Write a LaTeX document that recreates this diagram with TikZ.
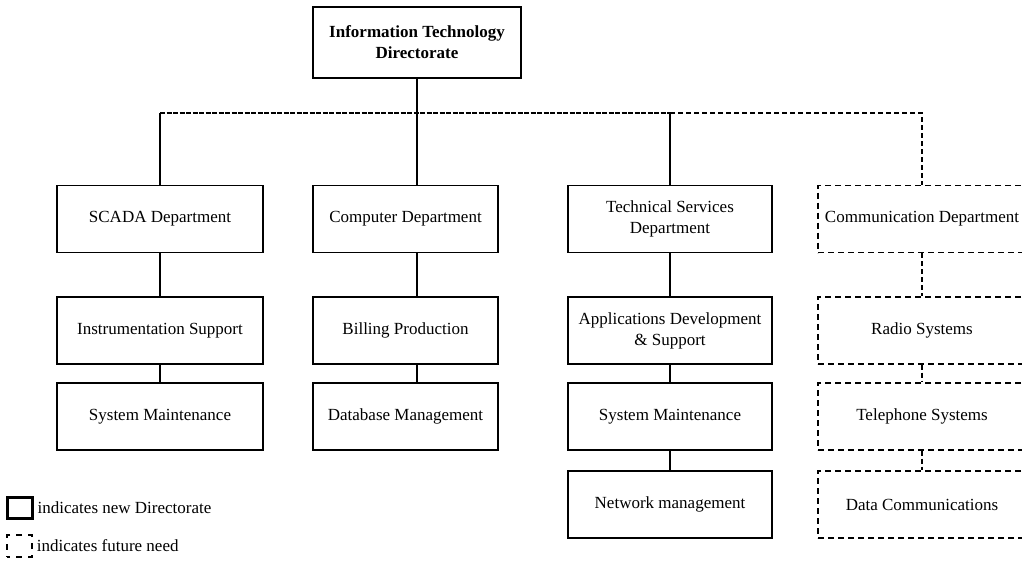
\documentclass[tikz,border=0pt]{standalone}
\usepackage{fontspec}
\setmainfont{Liberation Serif}
\usetikzlibrary{calc}
\begin{document}
\begin{tikzpicture}[x=1pt,y=-1pt,
  txt/.style={font=\fontsize{17}{21}\selectfont},
  unit/.style={draw, line width=1.3pt, inner sep=2pt, align=center, txt, minimum height=67pt},
  future/.style={unit, dash pattern=on 6pt off 4pt},
  head/.style={unit, line width=2.6pt, font=\fontsize{17}{21}\selectfont\bfseries},
  link/.style={line width=1.2pt},
  heavy/.style={line width=2pt},
  buslink/.style={line width=1.2pt, dash pattern=on 5pt off 1.5pt},
  futurelink/.style={line width=1.2pt, dash pattern=on 5pt off 3pt},
]
\useasboundingbox (0,0) rectangle (1022,560);
\fill[white] (0,0) rectangle (1022,560);

% directorate
\node[head, minimum width=208pt, minimum height=71pt] (itd) at (417,42.5) {Information Technology\\Directorate};

% SCADA column
\node[unit, minimum width=206pt] (scada) at (160,219) {SCADA Department};
\node[unit, minimum width=206pt] (instr) at (160,330.5) {Instrumentation Support};
\node[unit, minimum width=206pt] (sm1) at (160,416.5) {System Maintenance};

% computer column
\node[unit, minimum width=185pt] (comp) at (405.5,219) {Computer Department};
\node[unit, minimum width=185pt] (bill) at (405.5,330.5) {Billing Production};
\node[unit, minimum width=185pt] (db) at (405.5,416.5) {Database Management};

% technical services column
\node[unit, minimum width=204pt] (tech) at (670,219) {Technical Services\\Department};
\node[unit, minimum width=204pt] (apps) at (670,330.5) {Applications Development\\\& Support};
\node[unit, minimum width=204pt] (sm2) at (670,416.5) {System Maintenance};
\node[unit, minimum width=204pt] (net) at (670,504.5) {Network management};

% communication column (future)
\node[future, minimum width=208pt] (comm) at (922,219) {Communication Department};
\node[future, minimum width=208pt] (radio) at (922,330.5) {Radio Systems};
\node[future, minimum width=208pt] (tel) at (922,416.5) {Telephone Systems};
\node[future, minimum width=208pt] (data) at (922,504.5) {Data Communications};

% connectors from the directorate
\coordinate (bus) at (417,113);
\draw[link] (itd.south) -- (itd.south |- comp.north);
\draw[link] (scada.north) -- (scada.north |- bus);
\draw[buslink] (scada.north |- bus) -- (tech.north |- bus);
\draw[futurelink] (tech.north |- bus) -- (comm.north |- bus) -- (comm.north);
\draw[heavy] (tech.north |- bus) -- (tech.north);

% column connectors
\draw[link] (scada) -- (instr);
\draw[link] (instr) -- (sm1);
\draw[heavy] (itd.south |- comp.south) -- (itd.south |- bill.north);
\draw[link] (itd.south |- bill.south) -- (itd.south |- db.north);
\draw[heavy] (tech) -- (apps);
\draw[heavy] (apps) -- (sm2);
\draw[heavy] (sm2) -- (net);
\draw[futurelink] (comm) -- (radio);
\draw[futurelink] (radio) -- (tel);
\draw[futurelink] (tel) -- (data);

% legend
\node[draw, line width=3pt, minimum width=25pt, minimum height=21pt, inner sep=0pt] (keynew) at (19.5,507.5) {};
\node[draw, line width=1.5pt, dash pattern=on 6pt off 6pt, dash phase=3pt, minimum width=25pt, minimum height=22pt, inner sep=0pt] (keyfut) at (19.5,546) {};
\node[txt, anchor=west, inner sep=0pt, xshift=4pt] (keynewtext) at (keynew.east) {indicates new Directorate};
\node[txt, anchor=west, inner sep=0pt, xshift=4pt] (keyfuttext) at (keyfut.east) {indicates future need};
\end{tikzpicture}
\end{document}
